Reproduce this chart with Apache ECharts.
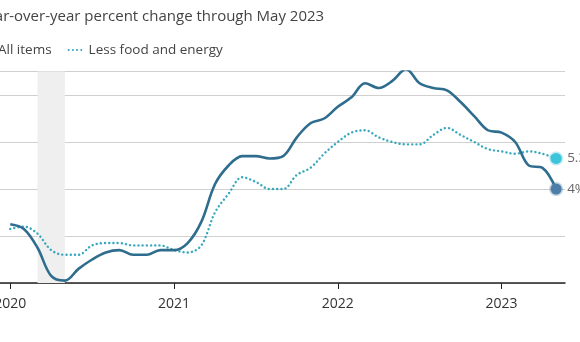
<!DOCTYPE html>
<html>
<head>
<meta charset="utf-8">
<script src="https://cdn.jsdelivr.net/npm/echarts@6/dist/echarts.min.js"></script>
<style>
  html, body { margin: 0; padding: 0; background: #fff; }
  #chart { width: 580px; height: 342px; }
</style>
</head>
<body>
<div id="chart"></div>
<script>
// Monthly CPI, year-over-year % change, Jan 2020 - May 2023
const months = [
  '2020-01','2020-02','2020-03','2020-04','2020-05','2020-06','2020-07','2020-08','2020-09','2020-10','2020-11','2020-12',
  '2021-01','2021-02','2021-03','2021-04','2021-05','2021-06','2021-07','2021-08','2021-09','2021-10','2021-11','2021-12',
  '2022-01','2022-02','2022-03','2022-04','2022-05','2022-06','2022-07','2022-08','2022-09','2022-10','2022-11','2022-12',
  '2023-01','2023-02','2023-03','2023-04','2023-05'
];
const allItems = [
  2.5, 2.3, 1.5, 0.3, 0.1, 0.6, 1.0, 1.3, 1.4, 1.2, 1.2, 1.4,
  1.4, 1.7, 2.6, 4.2, 5.0, 5.4, 5.4, 5.3, 5.4, 6.2, 6.8, 7.0,
  7.5, 7.9, 8.5, 8.3, 8.6, 9.1, 8.5, 8.3, 8.2, 7.7, 7.1, 6.5,
  6.4, 6.0, 5.0, 4.9, 4.0
];
const lessFoodEnergy = [
  2.3, 2.4, 2.1, 1.4, 1.2, 1.2, 1.6, 1.7, 1.7, 1.6, 1.6, 1.6,
  1.4, 1.3, 1.6, 3.0, 3.8, 4.5, 4.3, 4.0, 4.0, 4.6, 4.9, 5.5,
  6.0, 6.4, 6.5, 6.2, 6.0, 5.9, 5.9, 6.3, 6.6, 6.3, 6.0, 5.7,
  5.6, 5.5, 5.6, 5.5, 5.3
];
const yearTicks = ['2020', '2021', '2022', '2023'];
// Recession shading, Mar 2020 - May 2020 (month index)
const recession = [2, 4];

const tickIdx = yearTicks.map(y => months.indexOf(y + '-01'));

// Last point of each series gets a haloed dot and a value label
function build(values, color, halo, lbl) {
  const last = values.length - 1;
  return values.map((v, i) => {
    if (i !== last) return [i, v];
    return {
      value: [i, v],
      itemStyle: { color: color, borderColor: halo, borderWidth: 3 },
      label: {
        show: true, position: 'right', distance: 4,
        formatter: lbl, color: '#666', fontSize: 13.5, fontFamily: 'Open Sans'
      }
    };
  });
}

const chart = echarts.init(document.getElementById('chart'), null, { renderer: 'canvas' });
chart.setOption({
  animation: false,
  backgroundColor: '#fff',
  textStyle: { fontFamily: 'Open Sans' },
  title: {
    text: 'Year-over-year percent change through May 2023',
    left: -27, top: 4,
    textStyle: { fontSize: 15, fontWeight: 'normal', color: '#444', fontFamily: 'Open Sans' }
  },
  legend: {
    left: -27, top: 38,
    itemWidth: 15, itemHeight: 12, itemGap: 16,
    textStyle: { fontSize: 13.5, color: '#444', fontFamily: 'Open Sans' },
    data: [
      { name: 'All items', icon: 'path://M0,5 L20,5 L20,7 L0,7 Z' },
      { name: 'Less food and energy', itemStyle: { opacity: 0 } }
    ]
  },
  grid: { left: 0, right: 15, top: 71.5, bottom: 59, containLabel: false, outerBoundsMode: 'none' },
  xAxis: {
    type: 'value', min: -0.75, max: 40.65,
    splitLine: { show: false },
    axisLine: { lineStyle: { color: '#222', width: 1.5 } },
    axisTick: { show: true, length: 6, lineStyle: { color: '#222' }, customValues: tickIdx },
    axisLabel: {
      customValues: tickIdx, margin: 14,
      fontSize: 14, color: '#333', fontFamily: 'Open Sans',
      formatter: v => yearTicks[tickIdx.indexOf(Math.round(v))] || ''
    }
  },
  yAxis: {
    type: 'value', min: 0, max: 9, interval: 2,
    axisLine: { show: false }, axisTick: { show: false },
    axisLabel: { show: false },
    splitLine: { lineStyle: { color: '#d0d0d0', width: 1 } }
  },
  series: [
    {
      name: 'All items', type: 'line', smooth: 0.35,
      data: build(allItems, '#4d7ea8', 'rgba(77,126,168,0.35)', '4%'),
      symbol: 'circle',
      symbolSize: (v, p) => p.dataIndex === allItems.length - 1 ? 11 : 0,
      color: '#2f6d8e',
      lineStyle: { color: '#2f6d8e', width: 2.6 },
      z: 3,
      markArea: {
        silent: true,
        itemStyle: { color: '#efefef' },
        data: [[{ xAxis: recession[0], yAxis: 0 }, { xAxis: recession[1], yAxis: 9 }]]
      }
    },
    {
      name: 'Less food and energy', type: 'line', smooth: 0.35,
      data: build(lessFoodEnergy, '#3cc4da', 'rgba(60,196,218,0.35)', '5.3%'),
      symbol: 'circle',
      symbolSize: (v, p) => p.dataIndex === lessFoodEnergy.length - 1 ? 11 : 0,
      color: '#38a9bd',
      lineStyle: { color: '#38a9bd', width: 2.4, type: [0.1, 4.1], cap: 'round' },
      z: 2
    }
  ]
});
</script>
</body>
</html>
